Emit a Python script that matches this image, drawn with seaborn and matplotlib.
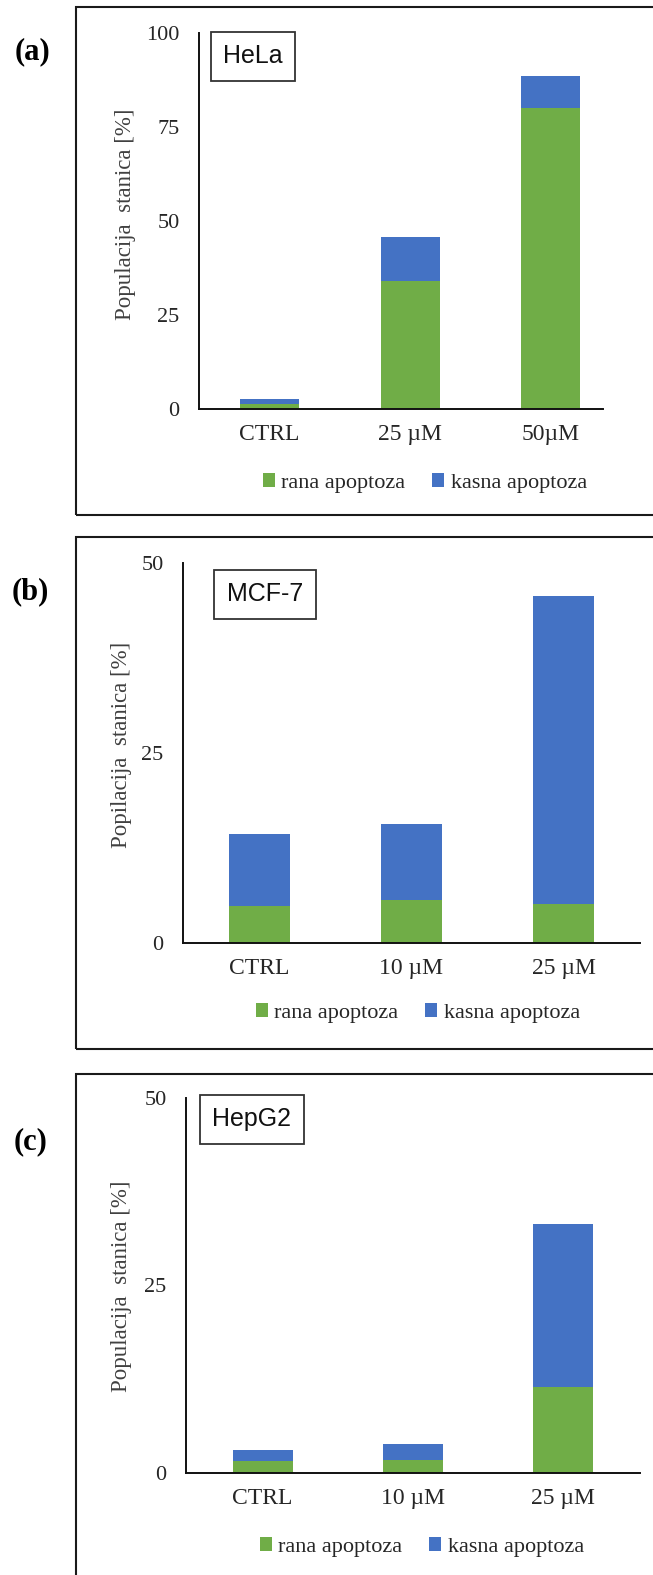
import pandas as pd
import matplotlib
matplotlib.use("Agg")
import matplotlib.pyplot as plt
from matplotlib.patches import Patch, Rectangle
import seaborn as sns

sns.set_style("white")
plt.rcParams['font.family'] = ['Liberation Serif', 'DejaVu Serif']

# values (% of cells)
hela_cats = ["CTRL", "25 µM", "50µM"]
hela_rana = [1.2, 34.0, 80.1]
hela_kasna = [1.4, 11.8, 8.5]

mcf7_cats = ["CTRL", "10 µM", "25 µM"]
mcf7_rana = [4.9, 5.6, 5.1]
mcf7_kasna = [9.5, 10.0, 40.5]

hepg2_cats = ["CTRL", "10 µM", "25 µM"]
hepg2_rana = [1.6, 1.8, 11.5]
hepg2_kasna = [1.5, 2.1, 21.7]

series_labels = ["rana apoptoza", "kasna apoptoza"]
cell_lines = ["HeLa", "MCF-7", "HepG2"]
panel_tags = ["(a)", "(b)", "(c)"]
ylabels = ["Populacija  stanica [%]", "Popilacija  stanica [%]", "Populacija  stanica [%]"]

GREEN = "#70AD47"
BLUE = "#4472C4"
W, H = 653, 1575


def fx(x):
    return x / W


def fy(y):
    return 1 - y / H


def draw_panel(fig, cats, rana, kasna, lay):
    x0, yt, x1, yb = lay["axes"]
    ax = fig.add_axes([fx(x0), fy(yb), (x1 - x0) / W, (yb - yt) / H])
    df = pd.DataFrame({"cat": cats, "rana": rana, "kasna": kasna})
    df["total"] = df["rana"] + df["kasna"]
    sns.barplot(data=df, x="cat", y="total", color=BLUE, saturation=1,
                width=lay["width"], errorbar=None, linewidth=0, ax=ax)
    sns.barplot(data=df, x="cat", y="rana", color=GREEN, saturation=1,
                width=lay["width"], errorbar=None, linewidth=0, ax=ax)
    ax.set_xlim(*lay["xlim"])
    ax.set_ylim(0, lay["ymax"])
    ax.set_yticks(lay["yticks"])
    ax.set_xlabel("")
    ax.set_ylabel("")
    for s in ["top", "right"]:
        ax.spines[s].set_visible(False)
    for s in ["left", "bottom"]:
        ax.spines[s].set_color("#111111")
        ax.spines[s].set_linewidth(1.4)
    ax.tick_params(axis="both", length=0, colors="#262626")
    ax.tick_params(axis="y", pad=14, labelsize=16)
    ax.tick_params(axis="x", pad=11, labelsize=17)
    ax.patch.set_alpha(0)
    return ax


layouts = [
    {"axes": (199, 33, 603, 409), "xlim": (-0.5, 2.37), "width": 0.42,
     "ymax": 100, "yticks": [0, 25, 50, 75, 100],
     "frame": (76, 7, 515), "tag": (33, 52), "ylab": (125, 214),
     "box": (253, 56), "legend": (425, 483)},
    {"axes": (183, 563, 640, 943), "xlim": (-0.5, 2.5), "width": 0.4,
     "ymax": 50, "yticks": [0, 25, 50],
     "frame": (76, 537, 1049), "tag": (30, 592), "ylab": (121, 745),
     "box": (265, 594), "legend": (418, 1013)},
    {"axes": (186, 1098, 640, 1473), "xlim": (-0.51, 2.51), "width": 0.4,
     "ymax": 50, "yticks": [0, 25, 50],
     "frame": (76, 1074, 1620), "tag": (31, 1142), "ylab": (122, 1286),
     "box": (252, 1119), "legend": (422, 1547)},
]

data = [
    (hela_cats, hela_rana, hela_kasna),
    (mcf7_cats, mcf7_rana, mcf7_kasna),
    (hepg2_cats, hepg2_rana, hepg2_kasna),
]

fig = plt.figure(figsize=(W / 100, H / 100), dpi=100)

for i, lay in enumerate(layouts):
    cats, rana, kasna = data[i]
    draw_panel(fig, cats, rana, kasna, lay)

    left, top, bottom = lay["frame"]
    fig.add_artist(Rectangle((fx(left), fy(bottom)), (720 - left) / W, (bottom - top) / H,
                             transform=fig.transFigure, fill=False,
                             edgecolor="#1a1a1a", linewidth=1.5))

    tx, ty = lay["tag"]
    fig.text(fx(tx), fy(ty), panel_tags[i], ha="center", va="center",
             fontsize=22, fontweight="bold", color="black")

    lx, ly = lay["ylab"]
    fig.text(fx(lx), fy(ly), ylabels[i], rotation=90, ha="center", va="center",
             fontsize=16.5, color="#404040")

    bx, by = lay["box"]
    fig.text(fx(bx), fy(by), cell_lines[i], ha="center", va="center",
             fontsize=18, family=["Liberation Sans", "DejaVu Sans"], color="#111111",
             bbox=dict(boxstyle="square,pad=0.5", facecolor="white",
                       edgecolor="#333333", linewidth=1.3))

    gx, gy = lay["legend"]
    handles = [Patch(facecolor=GREEN, edgecolor="none"), Patch(facecolor=BLUE, edgecolor="none")]
    fig.legend(handles=handles, labels=series_labels, loc="center",
               bbox_to_anchor=(fx(gx), fy(gy)), ncol=2, frameon=False,
               fontsize=16, handlelength=0.55, handleheight=0.55,
               handletextpad=0.3, columnspacing=1.2)

fig.savefig("out.png", dpi=100)
